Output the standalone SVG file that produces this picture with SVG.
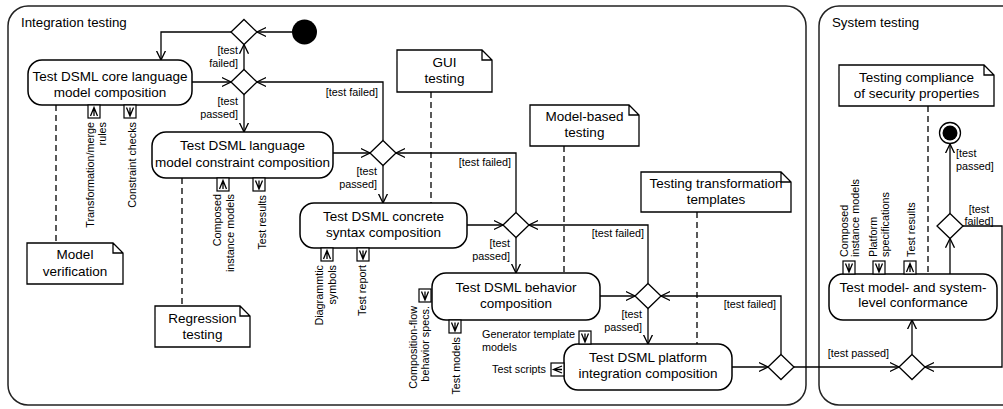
<svg xmlns="http://www.w3.org/2000/svg" width="1003" height="409" viewBox="0 0 1003 409">
<style>
text{font-family:"Liberation Sans",Arial,sans-serif;fill:#000}
.frame{fill:none;stroke:#222;stroke-width:1.5}
.title{font-size:13.3px}
.node rect.b{fill:#fff;stroke:#000;stroke-width:1.5}
.nt{font-size:13.5px;text-anchor:middle}
.note path{fill:#fff;stroke:#000;stroke-width:1.3}
.conn path{fill:none;stroke:#000;stroke-width:1.3}
.conn path.dash{stroke-dasharray:6,4}
.lbl{font-size:10.8px}
.r{text-anchor:end}
.m{text-anchor:middle}
.dia{fill:#fff;stroke:#000;stroke-width:1.3}
.pin rect{fill:#fff;stroke:#000;stroke-width:1.2}
.pin path{fill:none;stroke:#000;stroke-width:1.3}
</style>
<defs>
<marker id="arr" viewBox="0 0 10 10" markerWidth="10" markerHeight="10" refX="9.3" refY="5" orient="auto" markerUnits="userSpaceOnUse">
<path d="M0,0.5 L9.3,5 L0,9.5" fill="none" stroke="#000" stroke-width="1.3"/>
</marker>
<polygon id="dm" points="0,-12.5 13,0 0,12.5 -13,0"/>
<g id="pdown" class="pin"><rect x="0" y="0" width="12" height="13"/><path d="M2.5,2.5 L6,11 L9.5,2.5 M6,2.5 V11"/></g>
<g id="pup" class="pin"><rect x="0" y="0" width="12" height="13"/><path d="M2.5,11 L6,2.5 L9.5,11 M6,2.5 V11"/></g>
<g id="pleft" class="pin"><rect x="0" y="0" width="13" height="13"/><path d="M11,3 L2.5,6.5 L11,10 M2.5,6.5 H11"/></g>
</defs>

<g id="frames">
<rect class="frame" x="8" y="6" width="798" height="399" rx="20"/>
<text class="title" x="21" y="27">Integration testing</text>
<rect class="frame" x="819" y="6" width="210" height="399" rx="20"/>
<text class="title" x="832" y="27">System testing</text>
</g>

<g id="connectors" class="conn">
<path d="M292,32 H257" marker-end="url(#arr)"/>
<path d="M231,32 H161 V60" marker-end="url(#arr)"/>
<path d="M192,82 H231" marker-end="url(#arr)"/>
<path d="M244,70 V44.5" marker-end="url(#arr)"/>
<path d="M244,94.5 V132" marker-end="url(#arr)"/>
<path d="M333,153 H370" marker-end="url(#arr)"/>
<path d="M383,140.5 V82 H257" marker-end="url(#arr)"/>
<path d="M383,165.5 V203" marker-end="url(#arr)"/>
<path d="M467,225 H503" marker-end="url(#arr)"/>
<path d="M516,212.5 V153 H396" marker-end="url(#arr)"/>
<path d="M516,237.5 V273" marker-end="url(#arr)"/>
<path d="M600,296 H635" marker-end="url(#arr)"/>
<path d="M648,283.5 V225 H529" marker-end="url(#arr)"/>
<path d="M648,308.5 V344" marker-end="url(#arr)"/>
<path d="M732,367 H768" marker-end="url(#arr)"/>
<path d="M781,354.5 V296 H661" marker-end="url(#arr)"/>
<path d="M794,367 H899" marker-end="url(#arr)"/>
<path d="M963,226 H1002 V367 H925" marker-end="url(#arr)"/>
<path d="M912,354.5 V320" marker-end="url(#arr)"/>
<path d="M950,274 V238.5" marker-end="url(#arr)"/>
<path d="M950,213.5 V144" marker-end="url(#arr)"/>
<path class="dash" d="M56,105 V243"/>
<path class="dash" d="M182,178 V306"/>
<path class="dash" d="M431,92 V203"/>
<path class="dash" d="M564,146 V273"/>
<path class="dash" d="M697,212 V344"/>
<path class="dash" d="M928,106 V274"/>
<text class="lbl r" x="238" y="54">[test</text>
<text class="lbl r" x="238" y="67">failed]</text>
<text class="lbl r" x="238" y="105">[test</text>
<text class="lbl r" x="238" y="118">passed]</text>
<text class="lbl r" x="378" y="96">[test failed]</text>
<text class="lbl r" x="377" y="175">[test</text>
<text class="lbl r" x="377" y="188">passed]</text>
<text class="lbl r" x="511" y="166">[test failed]</text>
<text class="lbl r" x="510" y="247">[test</text>
<text class="lbl r" x="510" y="260">passed]</text>
<text class="lbl r" x="644" y="237">[test failed]</text>
<text class="lbl r" x="642" y="318">[test</text>
<text class="lbl r" x="642" y="331">passed]</text>
<text class="lbl r" x="776" y="308">[test failed]</text>
<text class="lbl r" x="889" y="357">[test passed]</text>
<text class="lbl m" x="979" y="213">[test</text>
<text class="lbl m" x="979" y="225">failed]</text>
<text class="lbl" x="956" y="157">[test</text>
<text class="lbl" x="956" y="170">passed]</text>
</g>

<g id="initial"><circle cx="304.5" cy="32" r="12.5" fill="#000"/></g>
<g id="final"><circle cx="950" cy="133" r="10.5" fill="#fff" stroke="#000" stroke-width="1.3"/><circle cx="950" cy="133" r="7.5" fill="#000"/></g>

<g id="decisions">
<use href="#dm" class="dia" x="244" y="32"/>
<use href="#dm" class="dia" x="244" y="82"/>
<use href="#dm" class="dia" x="383" y="153"/>
<use href="#dm" class="dia" x="516" y="225"/>
<use href="#dm" class="dia" x="648" y="296"/>
<use href="#dm" class="dia" x="781" y="367"/>
<use href="#dm" class="dia" x="912" y="367"/>
<use href="#dm" class="dia" x="950" y="226"/>
</g>

<g id="n-core" class="node">
<rect class="b" x="28" y="60" width="164" height="45" rx="14"/>
<text class="nt" x="110" y="81">Test DSML core language</text>
<text class="nt" x="110" y="97">model composition</text>
<use href="#pup" x="88" y="105"/>
<use href="#pdown" x="124" y="105"/>
<text class="lbl r" transform="translate(94,122) rotate(-90)">Transformation/merge</text>
<text class="lbl r" transform="translate(106,122) rotate(-90)">rules</text>
<text class="lbl r" transform="translate(136,122) rotate(-90)">Constraint checks</text>
</g>

<g id="n-constraint" class="node">
<rect class="b" x="152" y="132" width="181" height="46" rx="14"/>
<text class="nt" x="242.5" y="150">Test DSML language</text>
<text class="nt" x="242.5" y="167">model constraint composition</text>
<use href="#pup" x="217" y="178"/>
<use href="#pdown" x="253" y="178"/>
<text class="lbl r" transform="translate(221,194) rotate(-90)">Composed</text>
<text class="lbl r" transform="translate(234,194) rotate(-90)">instance models</text>
<text class="lbl r" transform="translate(266,195) rotate(-90)">Test results</text>
</g>

<g id="n-concrete" class="node">
<rect class="b" x="300" y="203" width="167" height="45" rx="14"/>
<text class="nt" x="383.5" y="221">Test DSML concrete</text>
<text class="nt" x="383.5" y="237">syntax composition</text>
<use href="#pup" x="321" y="248"/>
<use href="#pdown" x="357" y="248"/>
<text class="lbl r" transform="translate(323,265) rotate(-90)">Diagrammtic</text>
<text class="lbl r" transform="translate(336,265) rotate(-90)">symbols</text>
<text class="lbl r" transform="translate(366,265) rotate(-90)">Test report</text>
</g>

<g id="n-behavior" class="node">
<rect class="b" x="432" y="273" width="168" height="47" rx="14"/>
<text class="nt" x="516" y="292">Test DSML behavior</text>
<text class="nt" x="516" y="308">composition</text>
<use href="#pdown" x="419" y="289"/>
<use href="#pdown" x="449" y="320"/>
<text class="lbl r" transform="translate(417,306) rotate(-90)">Composition-flow</text>
<text class="lbl r" transform="translate(429,306) rotate(-90)">behavior specs.</text>
<text class="lbl r" transform="translate(460,337) rotate(-90)">Test models</text>
</g>

<g id="n-platform" class="node">
<rect class="b" x="564" y="344" width="168" height="46" rx="14"/>
<text class="nt" x="648" y="362">Test DSML platform</text>
<text class="nt" x="648" y="378">integration composition</text>
<use href="#pdown" x="579" y="331"/>
<use href="#pleft" x="551" y="363"/>
<text class="lbl" x="482" y="338">Generator template</text>
<text class="lbl" x="482" y="351">models</text>
<text class="lbl r" x="546" y="373">Test scripts</text>
</g>

<g id="n-conformance" class="node">
<rect class="b" x="829" y="274" width="168" height="46" rx="14"/>
<text class="nt" x="913" y="292">Test model- and system-</text>
<text class="nt" x="913" y="307">level conformance</text>
<use href="#pdown" x="843" y="261"/>
<use href="#pdown" x="873" y="261"/>
<use href="#pup" x="904" y="261"/>
<text class="lbl" transform="translate(848,257) rotate(-90)">Composed</text>
<text class="lbl" transform="translate(859,257) rotate(-90)">instance models</text>
<text class="lbl" transform="translate(877,257) rotate(-90)">Platform</text>
<text class="lbl" transform="translate(889,257) rotate(-90)">specifications</text>
<text class="lbl" transform="translate(915,257) rotate(-90)">Test results</text>
</g>

<g id="note-gui" class="note">
<path d="M397,50 H482 L492,60 V92 H397 Z M482,50 V60 H492"/>
<text class="nt" x="444.5" y="67">GUI</text>
<text class="nt" x="444.5" y="83">testing</text>
</g>
<g id="note-mbt" class="note">
<path d="M530,105 H629 L639,115 V146 H530 Z M629,105 V115 H639"/>
<text class="nt" x="584.5" y="121">Model-based</text>
<text class="nt" x="584.5" y="137">testing</text>
</g>
<g id="note-ttt" class="note">
<path d="M641,172 H781 L791,182 V212 H641 Z M781,172 V182 H791"/>
<text class="nt" x="716" y="188">Testing transformation</text>
<text class="nt" x="716" y="204">templates</text>
</g>
<g id="note-sec" class="note">
<path d="M839,65 H984 L994,75 V106 H839 Z M984,65 V75 H994"/>
<text class="nt" x="916.5" y="82">Testing compliance</text>
<text class="nt" x="916.5" y="98">of security properties</text>
</g>
<g id="note-mv" class="note">
<path d="M27,243 H113 L123,253 V284 H27 Z M113,243 V253 H123"/>
<text class="nt" x="75" y="259">Model</text>
<text class="nt" x="75" y="276">verification</text>
</g>
<g id="note-reg" class="note">
<path d="M155,306 H240 L250,316 V347 H155 Z M240,306 V316 H250"/>
<text class="nt" x="202.5" y="323">Regression</text>
<text class="nt" x="202.5" y="339">testing</text>
</g>
</svg>
